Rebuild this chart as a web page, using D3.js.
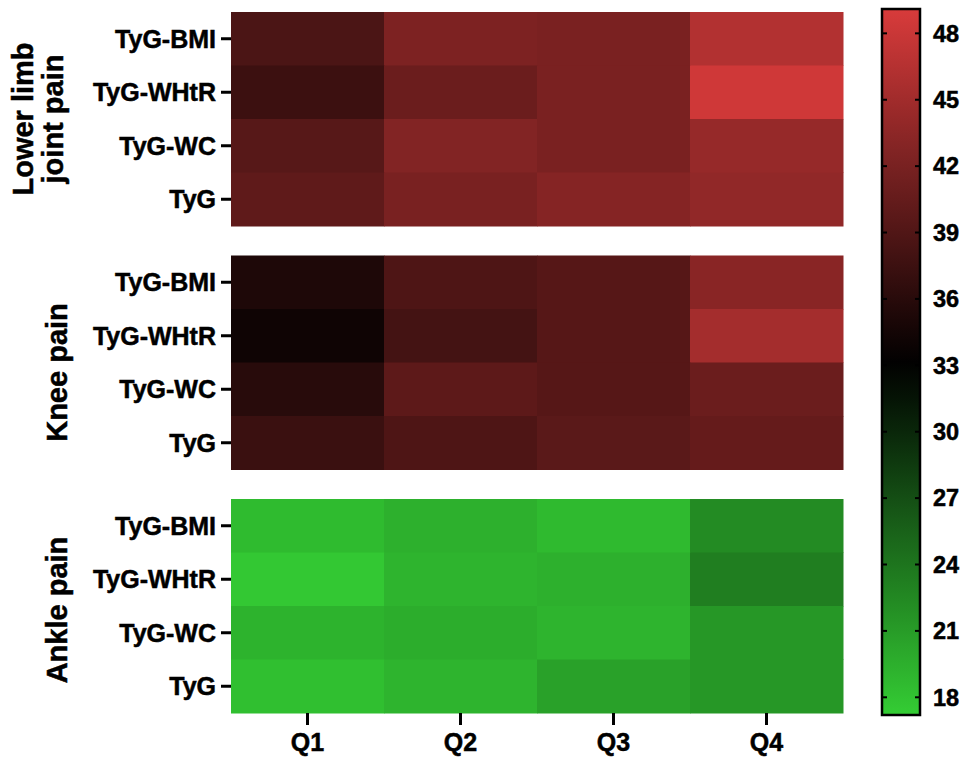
<!DOCTYPE html>
<html>
<head>
<meta charset="utf-8">
<script src="https://cdn.jsdelivr.net/npm/d3@7"></script>
<style>
  body { margin: 0; background: #fff; }
  svg { display: block; font-family: "Liberation Sans", Arial, sans-serif; font-weight: bold; }
  svg text { stroke: #000; stroke-width: 0.5px; }
</style>
</head>
<body>
<div id="chart"></div>
<script>
// data
const quartiles = ["Q1", "Q2", "Q3", "Q4"];
const indices = ["TyG-BMI", "TyG-WHtR", "TyG-WC", "TyG"];
const panelNames = [["Lower limb", "joint pain"], ["Knee pain"], ["Ankle pain"]];

// rows follow `indices`, columns follow `quartiles`
const lowerLimbPain = [
  [38.6, 42.3, 42.1, 46.3],
  [37.5, 41.0, 42.1, 48.4],
  [39.5, 42.7, 42.1, 44.2],
  [40.1, 42.0, 42.9, 43.8]
];
const kneePain = [
  [35.2, 38.8, 39.4, 43.2],
  [34.1, 38.1, 39.4, 45.2],
  [36.0, 39.9, 39.4, 41.0],
  [37.3, 38.8, 39.7, 40.5]
];
const anklePain = [
  [18.6, 19.4, 18.7, 22.3],
  [17.6, 19.1, 19.4, 23.3],
  [19.2, 19.7, 19.1, 21.4],
  [18.3, 19.1, 20.6, 21.4]
];
const colorTicks = [18, 21, 24, 27, 30, 33, 36, 39, 42, 45, 48];
const colorDomain = [17.2, 33, 49.1];

const width = 963, height = 757;
const svg = d3.select("#chart").append("svg")
  .attr("width", width)
  .attr("height", height);

const color = d3.scaleLinear()
  .domain(colorDomain)
  .range(["#34cd34", "#000000", "#d83b3b"]);

const x = d3.scaleBand().domain(quartiles).range([231, 843]);

const panelTops = [12, 255.5, 499];
const titleShift = [0, 10, 4];
const panelH = 214;
const panels = [lowerLimbPain, kneePain, anklePain];

panels.forEach((vals, p) => {
  const top = panelTops[p];
  const y = d3.scaleBand().domain(indices).range([top, top + panelH]);
  const g = svg.append("g");

  const cells = [];
  vals.forEach((row, i) => row.forEach((v, j) => cells.push({ idx: indices[i], q: quartiles[j], v })));

  g.selectAll("rect")
    .data(cells)
    .join("rect")
    .attr("x", d => x(d.q))
    .attr("y", d => y(d.idx))
    .attr("width", x.bandwidth() + 0.5)
    .attr("height", y.bandwidth() + 0.5)
    .attr("fill", d => color(d.v));

  const ax = g.append("g")
    .attr("transform", "translate(231,0)")
    .call(d3.axisLeft(y).tickSize(10).tickPadding(5));
  ax.select(".domain").remove();
  ax.selectAll(".tick line").attr("stroke", "#000").attr("stroke-width", 3);
  ax.selectAll(".tick text")
    .attr("fill", "#000")
    .style("font-size", "25px")
    .style("font-weight", "bold")
    .attr("dy", "0.35em");

  // panel title (rotated)
  const lines = panelNames[p];
  const cy = top + panelH / 2 + titleShift[p];
  const title = svg.append("text")
    .attr("transform", `translate(${lines.length > 1 ? 33 : 67},${cy}) rotate(-90)`)
    .attr("text-anchor", "middle")
    .style("font-size", "29px");
  lines.forEach((t, k) => {
    title.append("tspan")
      .attr("x", 0)
      .attr("dy", k === 0 ? 0 : 30)
      .text(t);
  });
});

// x axis under the last panel
const xAxis = svg.append("g")
  .attr("transform", `translate(0,${panelTops[2] + panelH})`)
  .call(d3.axisBottom(x).tickSize(12).tickPadding(8));
xAxis.select(".domain").remove();
xAxis.selectAll(".tick line").attr("stroke", "#000").attr("stroke-width", 3);
xAxis.selectAll(".tick text")
  .attr("fill", "#000")
  .style("font-size", "25px")
  .style("font-weight", "bold");

// colour bar
const cbX = 882, cbW = 38, cbTop = 9, cbBot = 715;
const cy = d3.scaleLinear().domain([colorDomain[0], colorDomain[2]]).range([cbBot, cbTop]);

const defs = svg.append("defs");
const grad = defs.append("linearGradient")
  .attr("id", "cbar")
  .attr("x1", 0).attr("y1", 1).attr("x2", 0).attr("y2", 0);
d3.range(0, 1.0001, 0.05).forEach(t => {
  const v = colorDomain[0] + t * (colorDomain[2] - colorDomain[0]);
  grad.append("stop").attr("offset", t).attr("stop-color", color(v));
});

svg.append("rect")
  .attr("x", cbX).attr("y", cbTop)
  .attr("width", cbW).attr("height", cbBot - cbTop)
  .attr("fill", "url(#cbar)")
  .attr("stroke", "#000")
  .attr("stroke-width", 2.5);

const cb = svg.append("g");
cb.selectAll("line.l")
  .data(colorTicks)
  .join("line")
  .attr("x1", cbX).attr("x2", cbX + 5)
  .attr("y1", d => cy(d)).attr("y2", d => cy(d))
  .attr("stroke", "#000").attr("stroke-width", 2);
cb.selectAll("line.r")
  .data(colorTicks)
  .join("line")
  .attr("class", "r")
  .attr("x1", cbX + cbW - 5).attr("x2", cbX + cbW)
  .attr("y1", d => cy(d)).attr("y2", d => cy(d))
  .attr("stroke", "#000").attr("stroke-width", 2);
cb.selectAll("text")
  .data(colorTicks)
  .join("text")
  .attr("x", 933)
  .attr("y", d => cy(d))
  .attr("dy", "0.35em")
  .style("font-size", "23.5px")
  .text(d => d);
</script>
</body>
</html>
